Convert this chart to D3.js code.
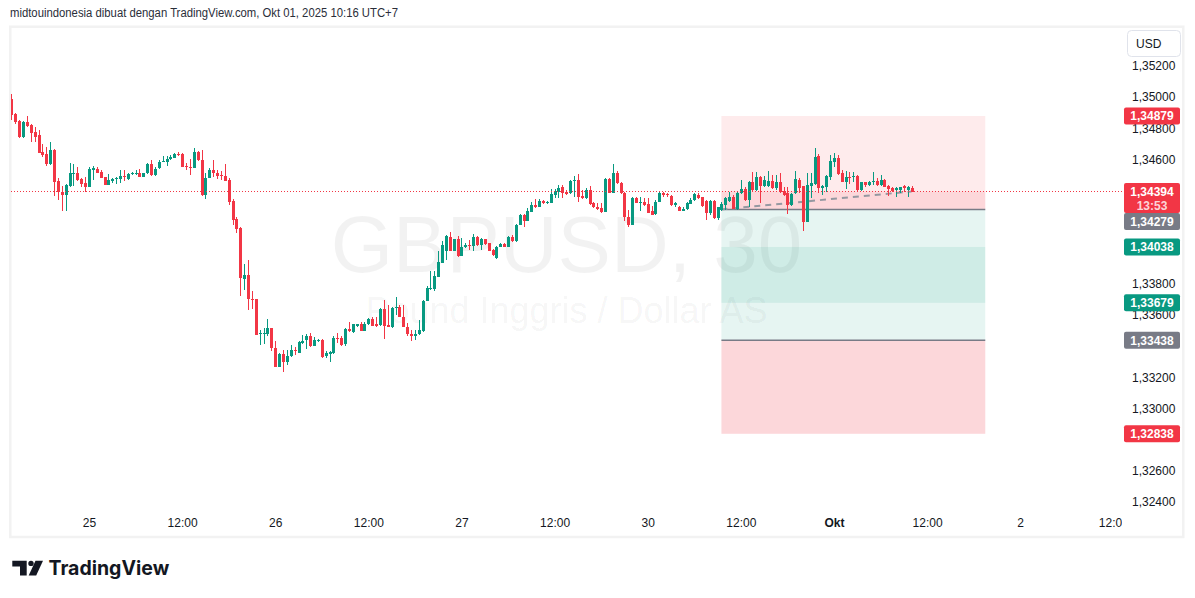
<!DOCTYPE html>
<html>
<head>
<meta charset="utf-8">
<script src="https://cdn.jsdelivr.net/npm/d3@7"></script>
<style>
  body { margin: 0; background: #fff; }
  svg { display: block; }
  text { font-family: "Liberation Sans", Arial, sans-serif; }
</style>
</head>
<body>
<script>
var width = 1195,
    height = 598;

// GBPUSD 30 min bars, 24 Sep 14:00 -> 01 Okt 10:00 (UTC+7), one entry per bar
var openV = [
  1.34988,1.34892,1.34849,1.34742,1.34838,1.34819,1.34778,1.34757,1.34648,1.34635,
  1.34571,1.34661,1.34462,1.34393,1.34372,1.34430,1.34507,1.34511,1.34474,1.34447,
  1.34425,1.34532,1.34539,1.34519,1.34485,1.34436,1.34462,1.34474,1.34474,1.34496,
  1.34474,1.34505,1.34509,1.34511,1.34489,1.34511,1.34571,1.34500,1.34543,1.34586,
  1.34582,1.34601,1.34612,1.34635,1.34635,1.34558,1.34554,1.34547,1.34650,1.34596,
  1.34372,1.34483,1.34532,1.34511,1.34500,1.34494,1.34468,1.34336,1.34218,1.34160,
  1.33833,1.33859,1.33705,1.33702,1.33478,1.33484,1.33480,1.33516,1.33392,1.33270,
  1.33352,1.33296,1.33335,1.33377,1.33360,1.33420,1.33441,1.33467,1.33405,1.33435,
  1.33441,1.33339,1.33350,1.33356,1.33456,1.33456,1.33412,1.33512,1.33493,1.33531,
  1.33540,1.33501,1.33540,1.33574,1.33544,1.33537,1.33640,1.33537,1.33527,1.33645,
  1.33655,1.33591,1.33527,1.33480,1.33463,1.33476,1.33495,1.33694,1.33765,1.33765,
  1.33848,1.33938,1.34015,1.34105,1.34015,1.34088,1.33981,1.34036,1.34051,1.34045,
  1.34100,1.34051,1.34088,1.34062,1.34019,1.33970,1.34040,1.34058,1.34040,1.34100,
  1.34073,1.34180,1.34244,1.34207,1.34265,1.34308,1.34297,1.34336,1.34323,1.34323,
  1.34372,1.34393,1.34426,1.34393,1.34383,1.34462,1.34468,1.34366,1.34351,1.34404,
  1.34319,1.34297,1.34287,1.34265,1.34473,1.34387,1.34515,1.34447,1.34383,1.34233,
  1.34180,1.34355,1.34319,1.34329,1.34314,1.34272,1.34250,1.34329,1.34387,1.34379,
  1.34366,1.34308,1.34297,1.34272,1.34280,1.34314,1.34340,1.34372,1.34357,1.34336,
  1.34254,1.34336,1.34222,1.34276,1.34308,1.34336,1.34357,1.34282,1.34383,1.34411,
  1.34340,1.34452,1.34404,1.34490,1.34430,1.34430,1.34464,1.34415,1.34458,1.34398,
  1.34383,1.34308,1.34383,1.34469,1.34430,1.34201,1.34430,1.34443,1.34623,1.34419,
  1.34426,1.34490,1.34586,1.34608,1.34516,1.34458,1.34490,1.34484,1.34494,1.34404,
  1.34452,1.34436,1.34452,1.34464,1.34436,1.34469,1.34430,1.34415,1.34404,1.34404,
  1.34430,1.34404,1.34415
];
var highV = [
  1.35020,1.34895,1.34852,1.34850,1.34879,1.34825,1.34806,1.34789,1.34699,1.34682,
  1.34712,1.34665,1.34479,1.34430,1.34442,1.34575,1.34571,1.34549,1.34479,1.34485,
  1.34549,1.34558,1.34549,1.34532,1.34489,1.34505,1.34483,1.34489,1.34530,1.34532,
  1.34511,1.34522,1.34532,1.34539,1.34515,1.34579,1.34596,1.34549,1.34596,1.34622,
  1.34622,1.34629,1.34644,1.34650,1.34639,1.34575,1.34601,1.34671,1.34656,1.34661,
  1.34511,1.34543,1.34596,1.34532,1.34528,1.34571,1.34479,1.34344,1.34233,1.34165,
  1.33929,1.33951,1.33752,1.33705,1.33506,1.33516,1.33574,1.33520,1.33431,1.33360,
  1.33377,1.33377,1.33409,1.33394,1.33431,1.33474,1.33480,1.33484,1.33458,1.33448,
  1.33446,1.33367,1.33369,1.33463,1.33488,1.33463,1.33516,1.33555,1.33544,1.33546,
  1.33555,1.33555,1.33582,1.33587,1.33591,1.33645,1.33698,1.33662,1.33655,1.33715,
  1.33664,1.33662,1.33548,1.33506,1.33506,1.33566,1.33698,1.33784,1.33884,1.33884,
  1.34015,1.34073,1.34115,1.34137,1.34092,1.34109,1.34094,1.34066,1.34083,1.34122,
  1.34109,1.34094,1.34092,1.34066,1.34024,1.34045,1.34062,1.34062,1.34109,1.34115,
  1.34186,1.34250,1.34248,1.34287,1.34329,1.34344,1.34344,1.34340,1.34336,1.34409,
  1.34409,1.34436,1.34436,1.34404,1.34468,1.34494,1.34507,1.34404,1.34415,1.34430,
  1.34329,1.34319,1.34323,1.34479,1.34479,1.34571,1.34528,1.34458,1.34393,1.34276,
  1.34361,1.34361,1.34361,1.34351,1.34351,1.34301,1.34340,1.34400,1.34393,1.34387,
  1.34370,1.34329,1.34301,1.34293,1.34329,1.34351,1.34383,1.34383,1.34361,1.34340,
  1.34340,1.34340,1.34297,1.34329,1.34357,1.34394,1.34372,1.34394,1.34469,1.34426,
  1.34464,1.34522,1.34522,1.34494,1.34494,1.34526,1.34500,1.34500,1.34516,1.34426,
  1.34426,1.34383,1.34526,1.34479,1.34430,1.34511,1.34511,1.34676,1.34633,1.34436,
  1.34498,1.34629,1.34640,1.34629,1.34533,1.34526,1.34522,1.34522,1.34500,1.34454,
  1.34458,1.34464,1.34522,1.34479,1.34500,1.34473,1.34436,1.34426,1.34421,1.34426,
  1.34436,1.34430,1.34430
];
var lowV = [
  1.34853,1.34825,1.34740,1.34740,1.34810,1.34712,1.34712,1.34640,1.34618,1.34560,
  1.34565,1.34367,1.34340,1.34271,1.34271,1.34425,1.34430,1.34464,1.34425,1.34393,
  1.34421,1.34468,1.34511,1.34479,1.34434,1.34434,1.34451,1.34442,1.34447,1.34464,
  1.34468,1.34500,1.34500,1.34485,1.34485,1.34507,1.34496,1.34494,1.34539,1.34582,
  1.34560,1.34596,1.34607,1.34624,1.34549,1.34532,1.34500,1.34543,1.34592,1.34367,
  1.34346,1.34479,1.34489,1.34474,1.34468,1.34460,1.34308,1.34180,1.34130,1.33724,
  1.33762,1.33634,1.33638,1.33470,1.33409,1.33416,1.33463,1.33367,1.33266,1.33266,
  1.33238,1.33281,1.33330,1.33341,1.33360,1.33416,1.33384,1.33394,1.33399,1.33429,
  1.33324,1.33324,1.33296,1.33352,1.33420,1.33405,1.33405,1.33490,1.33488,1.33523,
  1.33497,1.33497,1.33535,1.33529,1.33527,1.33533,1.33448,1.33521,1.33516,1.33598,
  1.33587,1.33523,1.33463,1.33437,1.33441,1.33474,1.33491,1.33688,1.33762,1.33758,
  1.33844,1.33933,1.33951,1.34009,1.34009,1.33972,1.33977,1.34030,1.34019,1.34015,
  1.34045,1.34019,1.34053,1.34011,1.33981,1.33961,1.34036,1.34036,1.34036,1.34068,
  1.34068,1.34176,1.34169,1.34203,1.34261,1.34287,1.34293,1.34314,1.34314,1.34319,
  1.34351,1.34351,1.34351,1.34374,1.34379,1.34357,1.34325,1.34344,1.34346,1.34308,
  1.34287,1.34276,1.34254,1.34261,1.34383,1.34383,1.34443,1.34379,1.34207,1.34165,
  1.34176,1.34319,1.34272,1.34304,1.34254,1.34240,1.34244,1.34325,1.34357,1.34361,
  1.34304,1.34297,1.34267,1.34267,1.34276,1.34312,1.34336,1.34344,1.34297,1.34212,
  1.34244,1.34218,1.34212,1.34272,1.34276,1.34329,1.34280,1.34276,1.34379,1.34336,
  1.34293,1.34400,1.34400,1.34323,1.34421,1.34426,1.34411,1.34404,1.34387,1.34366,
  1.34250,1.34304,1.34379,1.34387,1.34143,1.34197,1.34351,1.34436,1.34383,1.34372,
  1.34394,1.34469,1.34554,1.34500,1.34452,1.34411,1.34443,1.34458,1.34400,1.34400,
  1.34421,1.34430,1.34436,1.34430,1.34432,1.34421,1.34366,1.34394,1.34357,1.34387,
  1.34394,1.34357,1.34394
];
var closeV = [
  1.34887,1.34843,1.34746,1.34843,1.34815,1.34772,1.34746,1.34644,1.34629,1.34571,
  1.34661,1.34457,1.34393,1.34372,1.34436,1.34511,1.34513,1.34468,1.34442,1.34425,
  1.34539,1.34543,1.34515,1.34483,1.34436,1.34468,1.34474,1.34481,1.34496,1.34489,
  1.34505,1.34515,1.34515,1.34489,1.34511,1.34569,1.34500,1.34539,1.34586,1.34592,
  1.34603,1.34614,1.34635,1.34629,1.34554,1.34551,1.34547,1.34650,1.34596,1.34372,
  1.34483,1.34532,1.34511,1.34494,1.34494,1.34464,1.34329,1.34212,1.34154,1.33837,
  1.33859,1.33702,1.33698,1.33474,1.33488,1.33488,1.33516,1.33392,1.33270,1.33352,
  1.33296,1.33339,1.33377,1.33367,1.33427,1.33435,1.33463,1.33403,1.33441,1.33441,
  1.33328,1.33354,1.33364,1.33456,1.33448,1.33409,1.33512,1.33495,1.33540,1.33540,
  1.33501,1.33546,1.33574,1.33533,1.33533,1.33640,1.33531,1.33527,1.33645,1.33651,
  1.33591,1.33527,1.33480,1.33463,1.33480,1.33506,1.33694,1.33773,1.33773,1.33852,
  1.33944,1.34051,1.34109,1.34015,1.34088,1.33981,1.34036,1.34051,1.34041,1.34105,
  1.34051,1.34088,1.34058,1.34015,1.33985,1.34040,1.34058,1.34040,1.34105,1.34073,
  1.34180,1.34244,1.34207,1.34272,1.34308,1.34293,1.34336,1.34319,1.34329,1.34379,
  1.34400,1.34415,1.34383,1.34379,1.34462,1.34468,1.34361,1.34351,1.34404,1.34312,
  1.34293,1.34280,1.34265,1.34473,1.34387,1.34515,1.34447,1.34383,1.34233,1.34180,
  1.34355,1.34323,1.34329,1.34308,1.34259,1.34244,1.34329,1.34387,1.34372,1.34374,
  1.34308,1.34319,1.34272,1.34282,1.34323,1.34340,1.34376,1.34351,1.34301,1.34254,
  1.34336,1.34222,1.34293,1.34312,1.34351,1.34357,1.34282,1.34387,1.34411,1.34340,
  1.34458,1.34404,1.34490,1.34430,1.34469,1.34464,1.34415,1.34452,1.34394,1.34372,
  1.34308,1.34379,1.34475,1.34415,1.34201,1.34436,1.34447,1.34618,1.34419,1.34430,
  1.34494,1.34591,1.34612,1.34507,1.34458,1.34490,1.34484,1.34494,1.34404,1.34452,
  1.34436,1.34458,1.34464,1.34436,1.34469,1.34426,1.34409,1.34400,1.34415,1.34421,
  1.34415,1.34421,1.34394
];

// time axis labels and the bar they sit on
var tickBars = [20, 44, 68, 92, 116, 140, 164, 188, 212, 236, 260, 284];
var tickLabels = ["25", "12:00", "26", "12:00", "27", "12:00", "30", "12:00", "Okt", "12:00", "2", "12:00"];

var priceTicks = d3.range(1.324, 1.3521, 0.002);

// two position tools: [short, long]
var posBars = [183, 251];
var entryPrices = [1.34279, 1.33438];
var stopPrices = [1.34879, 1.32838];
var targetPrices = [1.33679, 1.34038];

var countdown = "13:53";

var up = '#089981', down = '#f23645', grey = '#787b86';
var plotRight = 1122;

var svg = d3.select('body').append('svg')
    .attr('width', width)
    .attr('height', height);

var x = d3.scaleLinear().domain([0, 284]).range([11.4, 1113.3]);
var y = d3.scaleLinear().domain([1.324, 1.352]).range([502, 66]);
var fmt = function(v) { return d3.format('.5f')(v).replace('.', ','); };

var defs = svg.append('defs');
defs.append('clipPath').attr('id', 'plot').append('rect')
    .attr('x', 11).attr('y', 28).attr('width', plotRight - 11).attr('height', 508);

/* header line */
svg.append('text')
    .attr('x', 10).attr('y', 17)
    .attr('textLength', 388)
    .attr('lengthAdjust', 'spacingAndGlyphs')
    .style('font-size', '12.5px')
    .style('fill', '#2a2e39')
    .text('midtouindonesia dibuat dengan TradingView.com, Okt 01, 2025 10:16 UTC+7');

/* chart frame */
svg.append('rect')
    .attr('x', 10.3).attr('y', 26.7)
    .attr('width', 1173).attr('height', 510.3)
    .attr('fill', 'none')
    .attr('stroke', '#f2f2f2')
    .attr('stroke-width', 2.5);

var plot = svg.append('g').attr('clip-path', 'url(#plot)');

/* watermark */
plot.append('text')
    .attr('x', 566.5).attr('y', 272)
    .attr('text-anchor', 'middle')
    .style('font-size', '80px')
    .style('fill', 'rgba(0,0,0,0.05)')
    .text('GBPUSD, 30');
plot.append('text')
    .attr('x', 566.5).attr('y', 323)
    .attr('text-anchor', 'middle')
    .style('font-size', '36px')
    .style('fill', 'rgba(0,0,0,0.05)')
    .text('Pound Inggris / Dollar AS');

var lastPrice = closeV[closeV.length - 1];

function zone(p1, p2, color, alpha) {
    plot.append('rect')
        .attr('x', x(posBars[0]))
        .attr('width', x(posBars[1]) - x(posBars[0]))
        .attr('y', y(Math.max(p1, p2)))
        .attr('height', Math.abs(y(p1) - y(p2)))
        .attr('fill', color)
        .attr('fill-opacity', alpha);
}
zone(stopPrices[0], entryPrices[0], down, 0.1);
zone(lastPrice, entryPrices[0], down, 0.11);
zone(entryPrices[0], targetPrices[0], up, 0.1);
zone(entryPrices[1], targetPrices[1], up, 0.1);
zone(entryPrices[1], stopPrices[1], down, 0.2);

entryPrices.forEach(function(p) {
    plot.append('line')
        .attr('x1', x(posBars[0])).attr('x2', x(posBars[1]))
        .attr('y1', y(p)).attr('y2', y(p))
        .attr('stroke', grey)
        .attr('stroke-width', 1.5);
});

/* dashed line from the entry to the last close */
plot.append('line')
    .attr('x1', x(posBars[0])).attr('y1', y(entryPrices[0]))
    .attr('x2', x(closeV.length - 1)).attr('y2', y(lastPrice))
    .attr('stroke', '#9598a1')
    .attr('stroke-width', 2)
    .attr('stroke-dasharray', '6,5');

/* candles */
var bars = plot.append('g').attr('shape-rendering', 'crispEdges')
    .selectAll('g')
    .data(d3.range(closeV.length))
    .enter().append('g')
    .attr('fill', function(i) { return closeV[i] >= openV[i] ? up : down; });

bars.append('rect')
    .attr('x', function(i) { return Math.round(x(i)); })
    .attr('width', 1)
    .attr('y', function(i) { return y(highV[i]); })
    .attr('height', function(i) { return Math.max(1, y(lowV[i]) - y(highV[i])); });

bars.append('rect')
    .attr('x', function(i) { return Math.round(x(i)) - 1; })
    .attr('width', 3)
    .attr('y', function(i) { return y(Math.max(openV[i], closeV[i])); })
    .attr('height', function(i) { return Math.max(1, Math.abs(y(openV[i]) - y(closeV[i]))); });

/* last price line */
plot.append('line')
    .attr('x1', 11).attr('x2', plotRight)
    .attr('y1', y(lastPrice)).attr('y2', y(lastPrice))
    .attr('stroke', down)
    .attr('stroke-width', 1)
    .attr('stroke-dasharray', '1,2');

/* time axis */
defs.append('clipPath').attr('id', 'xaxis').append('rect')
    .attr('x', 0).attr('y', 500).attr('width', plotRight).attr('height', 40);
var xAxis = svg.append('g')
    .attr('clip-path', 'url(#xaxis)')
    .append('g')
    .attr('transform', 'translate(0,515)')
    .call(d3.axisBottom(x)
        .tickValues(tickBars)
        .tickFormat(function(d, i) { return tickLabels[i]; })
        .tickSize(0)
        .tickPadding(3));
xAxis.select('.domain').remove();
xAxis.selectAll('text')
    .style('font-family', '"Liberation Sans", Arial, sans-serif')
    .style('font-size', '12px')
    .style('fill', '#131722')
    .style('font-weight', function(d, i) { return tickLabels[i] === 'Okt' ? 'bold' : 'normal'; });

/* price labels on the axis, pushed down when they overlap */
var labels = [
    {p: lastPrice, color: down, h: 30, sub: countdown},
    {p: stopPrices[0], color: down, h: 17},
    {p: entryPrices[0], color: grey, h: 17},
    {p: targetPrices[1], color: up, h: 17},
    {p: targetPrices[0], color: up, h: 17},
    {p: entryPrices[1], color: grey, h: 17},
    {p: stopPrices[1], color: down, h: 17}
];
labels.forEach(function(d) { d.top = y(d.p) - 8.5; });
labels.sort(function(a, b) { return a.top - b.top; });
var bottom = -Infinity;
labels.forEach(function(d) {
    if (d.top < bottom) d.top = bottom;
    bottom = d.top + d.h;
});

/* price axis; ticks sitting under a label are covered by it */
var covered = function(v) {
    var py = y(v);
    return labels.some(function(d) { return py > d.top && py < d.top + d.h; });
};
var yAxis = svg.append('g')
    .attr('transform', 'translate(1132,0)')
    .call(d3.axisRight(y)
        .tickValues(priceTicks.filter(function(v) { return !covered(v); }))
        .tickFormat(fmt)
        .tickSize(0)
        .tickPadding(0));
yAxis.select('.domain').remove();
yAxis.selectAll('text')
    .style('font-family', '"Liberation Sans", Arial, sans-serif')
    .style('font-size', '12px')
    .style('fill', '#131722');

/* USD button */
svg.append('rect')
    .attr('x', 1127.5).attr('y', 30.5)
    .attr('width', 53).attr('height', 26).attr('rx', 4)
    .attr('fill', '#fff').attr('stroke', '#e0e3eb');
svg.append('text')
    .attr('x', 1136).attr('y', 48)
    .style('font-size', '12px').style('fill', '#131722')
    .text('USD');

var lab = svg.append('g').selectAll('g')
    .data(labels)
    .enter().append('g');
lab.append('rect')
    .attr('x', 1124).attr('width', 56)
    .attr('y', function(d) { return d.top; })
    .attr('height', function(d) { return d.h; })
    .attr('rx', 2)
    .attr('fill', function(d) { return d.color; });
lab.append('text')
    .attr('x', 1152).attr('text-anchor', 'middle')
    .attr('y', function(d) { return d.top + 12.8; })
    .style('font-size', '12px')
    .style('font-weight', 'bold')
    .style('fill', '#fff')
    .text(function(d) { return fmt(d.p); });
lab.filter(function(d) { return d.sub; }).append('text')
    .attr('x', 1152).attr('text-anchor', 'middle')
    .attr('y', function(d) { return d.top + 26.5; })
    .style('font-size', '12px')
    .style('font-weight', 'bold')
    .style('fill', 'rgba(255,255,255,0.8)')
    .text(function(d) { return d.sub; });

/* TradingView logo */
var logo = svg.append('g').attr('fill', '#131722');
logo.append('path').attr('d', 'M12.3,560.7H26.7V575.5H20V566.4H12.3Z');
logo.append('circle').attr('cx', 31).attr('cy', 563.4).attr('r', 2.7);
logo.append('path').attr('d', 'M35.5,560.7H43L36.2,575.5H28.7Z');
svg.append('text')
    .attr('x', 48.5).attr('y', 575.3)
    .style('font-family', 'Inter, "Liberation Sans", sans-serif')
    .style('font-size', '19.5px')
    .style('font-weight', 'bold')
    .style('fill', '#131722')
    .text('TradingView');
</script>
</body>
</html>
